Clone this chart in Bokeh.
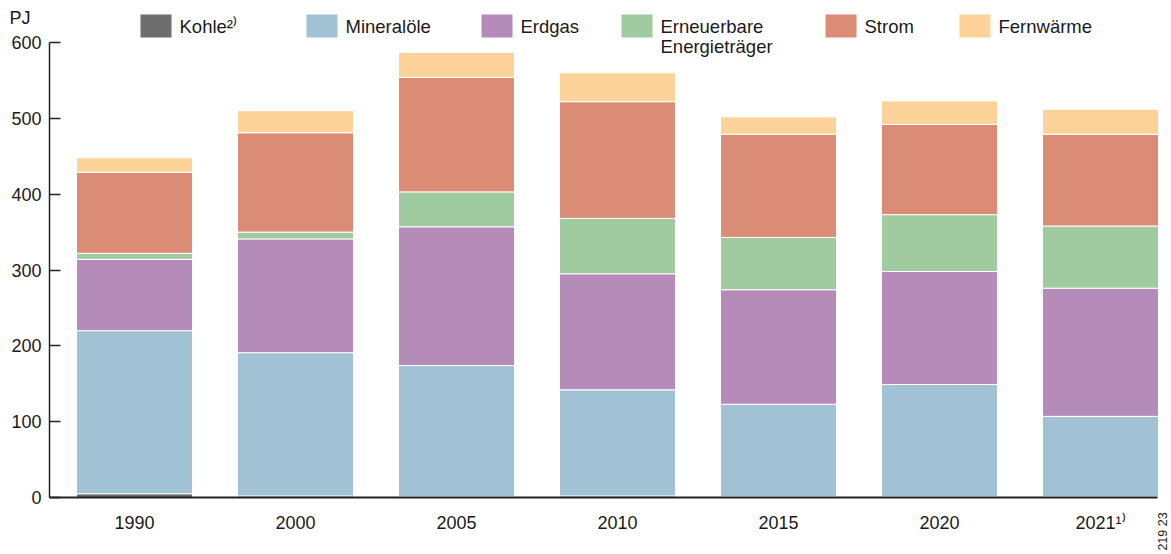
import numpy as np
from bokeh.plotting import figure
from bokeh.models import Range1d, FixedTicker, ColumnDataSource
from bokeh.embed import file_html
from bokeh.resources import INLINE
from bokeh.core.properties import value

# ---------------- data ----------------
years = ["1990", "2000", "2005", "2010", "2015", "2020", "2021¹⁾"]
kohle = [5, 2, 1, 2, 1, 1, 1]
mineraloele = [215, 189, 173, 140, 122, 148, 106]
erdgas = [94, 150, 183, 153, 151, 149, 169]
erneuerbare = [8, 9, 46, 73, 69, 75, 82]
strom = [107, 131, 151, 154, 136, 119, 121]
fernwaerme = [19, 29, 33, 38, 23, 31, 33]
series_names = ["Kohle²⁾", "Mineralöle", "Erdgas", "Erneuerbare\nEnergieträger", "Strom", "Fernwärme"]
colors = ["#6E6E6E", "#A1C1D5", "#B48BB9", "#A0CA9F", "#DA8C77", "#FDD39A"]
y_ticks = [0, 100, 200, 300, 400, 500, 600]
unit_label = "PJ"
code_label = "219 23"

# ---------------- layout (pixel positions on the page) ----------------
FIG_W, FIG_H = 1168, 552
SLOT = 161.0          # px between category centres
CX0 = 134.0           # px of first category centre
ZERO_Y = 497.0        # px of y = 0
PXU = 455.0 / 600.0   # px per PJ
AX_L, AX_R = 49.0, 1157.0
FONT = "Liberation Sans"
TXT = "#1a1a1a"

def fx(px):
    return (px - CX0) / SLOT

def fy(py):
    return (ZERO_Y - py) / PXU

keys = ["kohle", "mineraloele", "erdgas", "erneuerbare", "strom", "fernwaerme"]
src = ColumnDataSource(dict(x=list(range(len(years))), kohle=kohle, mineraloele=mineraloele,
                            erdgas=erdgas, erneuerbare=erneuerbare, strom=strom,
                            fernwaerme=fernwaerme))

p = figure(width=FIG_W, height=FIG_H, output_backend="svg", toolbar_location=None,
           x_range=Range1d(fx(0), fx(FIG_W)), y_range=Range1d(fy(FIG_H), fy(0)),
           min_border=0)
p.outline_line_color = None
p.grid.visible = False
p.background_fill_color = "white"
p.border_fill_color = "white"

p.vbar_stack(keys, x="x", width=116 / SLOT, color=colors, line_color="white", line_width=1,
             source=src)

# y axis
p.yaxis.fixed_location = fx(AX_L)
p.yaxis.ticker = FixedTicker(ticks=y_ticks)
p.yaxis.bounds = (0, 600)
p.yaxis.major_tick_in = 11
p.yaxis.major_tick_out = 0
p.yaxis.minor_tick_line_color = None
p.yaxis.axis_line_color = "#222222"
p.yaxis.axis_line_width = 1.5
p.yaxis.major_tick_line_color = "#222222"
p.yaxis.major_tick_line_width = 1.5
p.yaxis.major_label_text_font = FONT
p.yaxis.major_label_text_font_size = "18px"
p.yaxis.major_label_text_color = TXT
p.yaxis.major_label_standoff = 8

# x axis
p.xaxis.fixed_location = 0
p.xaxis.bounds = (fx(AX_L), fx(AX_R))
p.xaxis.ticker = FixedTicker(ticks=list(range(len(years))))
p.xaxis.major_label_overrides = {i: y for i, y in enumerate(years)}
p.xaxis.major_tick_in = 0
p.xaxis.major_tick_out = 0
p.xaxis.minor_tick_line_color = None
p.xaxis.axis_line_color = "#222222"
p.xaxis.axis_line_width = 2
p.xaxis.major_label_text_font = FONT
p.xaxis.major_label_text_font_size = "18px"
p.xaxis.major_label_text_color = TXT
p.xaxis.major_label_standoff = 15

# legend (manual, above the bars)
box_left = [140, 306, 481, 621, 825, 959]
lx, ly, lt, bx = [], [], [], []
for i, name in enumerate(series_names):
    bx.append(fx(box_left[i] + 15.5))
    for j, line in enumerate(name.split("\n")):
        lx.append(fx(box_left[i] + 39))
        ly.append(fy(26 + 19.5 * j))
        lt.append(line)
p.rect(x=bx, y=[fy(25.5)] * len(bx), width=31, height=23, width_units="screen",
       height_units="screen", color=colors, line_color=None)
p.text(x=lx, y=ly, text=lt, text_font=value(FONT), text_font_size="18.5px",
       text_baseline="middle", text_align="left", text_color=TXT)

# unit and figure code
p.text(x=[fx(9)], y=[fy(17)], text=[unit_label], text_font=value(FONT), text_font_size="18px",
       text_baseline="middle", text_align="left", text_color=TXT)
p.text(x=[fx(1162)], y=[fy(531)], text=[code_label], angle=np.pi / 2, text_font=value(FONT),
       text_font_size="12.5px", text_baseline="middle", text_align="center", text_color=TXT)

open("out.html", "w").write(file_html(p, INLINE))
